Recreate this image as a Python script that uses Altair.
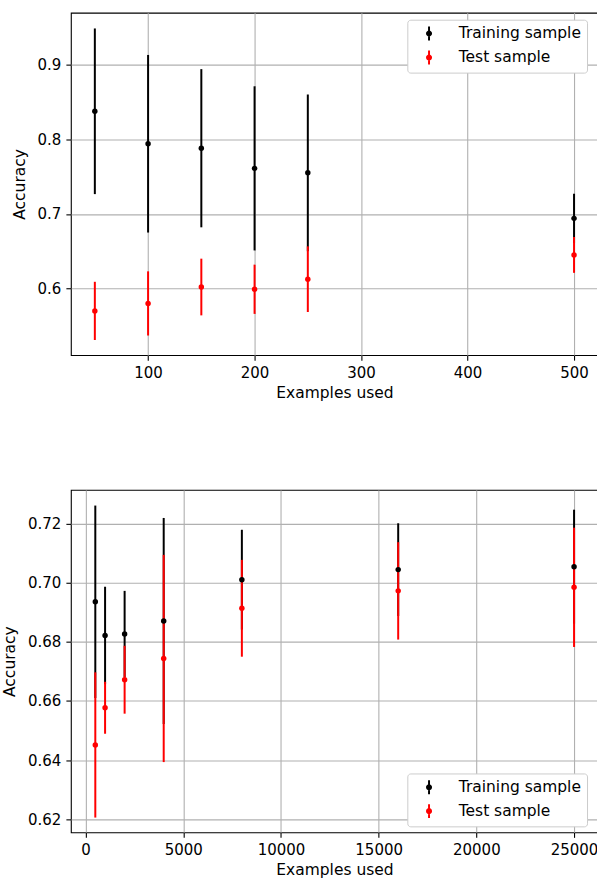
import altair as alt
import pandas as pd

# Run with few training examples
small_n = [50, 100, 150, 200, 250, 500]
small_train_acc = [0.8375, 0.794, 0.788, 0.761, 0.755, 0.694]
small_train_err = [0.111, 0.119, 0.106, 0.110, 0.105, 0.033]
small_test_acc = [0.570, 0.580, 0.602, 0.599, 0.6125, 0.645]
small_test_err = [0.039, 0.043, 0.038, 0.033, 0.044, 0.024]

# Run with many training examples
large_n = [500, 1000, 2000, 4000, 8000, 16000, 25000]
large_train_acc = [0.6936, 0.6822, 0.6827, 0.6871, 0.7011, 0.7045, 0.7055]
large_train_err = [0.0326, 0.0165, 0.0146, 0.0349, 0.0169, 0.0157, 0.0193]
large_test_acc = [0.6451, 0.6577, 0.6672, 0.6744, 0.6914, 0.6973, 0.6985]
large_test_err = [0.0246, 0.0088, 0.0115, 0.0351, 0.0164, 0.0165, 0.0202]

series_names = ["Training sample", "Test sample"]
series_colors = ["black", "red"]

# errorbar-style legend glyph: vertical bar with a dot in the middle
ERRBAR_GLYPH = (
    "M-0.14,-1L0.14,-1L0.14,1L-0.14,1Z "
    "M-0.43,0A0.43,0.43 0 1,1 0.43,0A0.43,0.43 0 1,1 -0.43,0Z"
)

FONT = "DejaVu Sans"


def frame(n, tr_acc, tr_err, te_acc, te_err):
    rows = []
    for k, (name, acc, err) in enumerate([(series_names[0], tr_acc, tr_err),
                                          (series_names[1], te_acc, te_err)]):
        for x, a, e in zip(n, acc, err):
            rows.append({"n": x, "acc": a, "lo": a - e, "hi": a + e,
                         "sample": name, "order": k})
    return pd.DataFrame(rows)


def panel(df, x_dom, x_ticks, y_dom, y_ticks, y_fmt, legend_y):
    x = alt.X("n:Q", title="Examples used",
              scale=alt.Scale(domain=x_dom, nice=False, zero=False),
              axis=alt.Axis(values=x_ticks, format="d"))
    legend = alt.Legend(
        title=None, orient="none", legendX=337, legendY=legend_y,
        symbolType=ERRBAR_GLYPH, symbolSize=196, symbolOffset=8,
        symbolStrokeWidth=0,
        labelFontSize=15.5, labelFont=FONT, labelColor="black",
        labelOffset=22, rowPadding=7,
        fillColor="white", strokeColor="#cccccc", cornerRadius=3, padding=6,
    )
    color = alt.Color("sample:N", legend=legend,
                      scale=alt.Scale(domain=series_names, range=series_colors))
    bars = alt.Chart(df).mark_rule(strokeWidth=2).encode(
        x=x,
        y=alt.Y("lo:Q", title="Accuracy",
                scale=alt.Scale(domain=y_dom, nice=False, zero=False),
                axis=alt.Axis(values=y_ticks, format=y_fmt)),
        y2="hi:Q",
        color=color,
        order=alt.Order("order:Q"),
    )
    dots = alt.Chart(df).mark_point(filled=True, size=30, opacity=1).encode(
        x=x,
        y=alt.Y("acc:Q"),
        color=color,
        order=alt.Order("order:Q"),
    )
    return alt.layer(bars, dots).properties(width=528, height=343)


top = panel(frame(small_n, small_train_acc, small_train_err, small_test_acc, small_test_err),
            [27.5, 522.5], [100, 200, 300, 400, 500],
            [0.5107, 0.9696], [0.6, 0.7, 0.8, 0.9], ".1f", 7)
bottom = panel(frame(large_n, large_train_acc, large_train_err, large_test_acc, large_test_err),
               [-750, 26225], [0, 5000, 10000, 15000, 20000, 25000],
               [0.6155, 0.7315], [0.62, 0.64, 0.66, 0.68, 0.70, 0.72], ".2f", 284)

# the right edge of both panels runs just past the page, as does the last tick label
chart = alt.vconcat(top, bottom, spacing=87).resolve_legend(color="independent").properties(
    padding={"left": 2, "top": 11, "right": -2, "bottom": -1}
).configure_view(stroke="black", strokeWidth=1.1).configure_axis(
    grid=True, gridColor="#b0b0b0", gridWidth=1.1, domain=False,
    tickColor="black", tickSize=5, tickWidth=1.1,
    labelFont=FONT, labelFontSize=15, labelColor="black", labelPadding=5,
    titleFont=FONT, titleFontSize=15.5, titleColor="black", titleFontWeight="normal",
).configure_axisX(titlePadding=5).configure_axisY(titlePadding=10)

chart.save("out.html", embed_options={"renderer": "svg", "actions": False})
